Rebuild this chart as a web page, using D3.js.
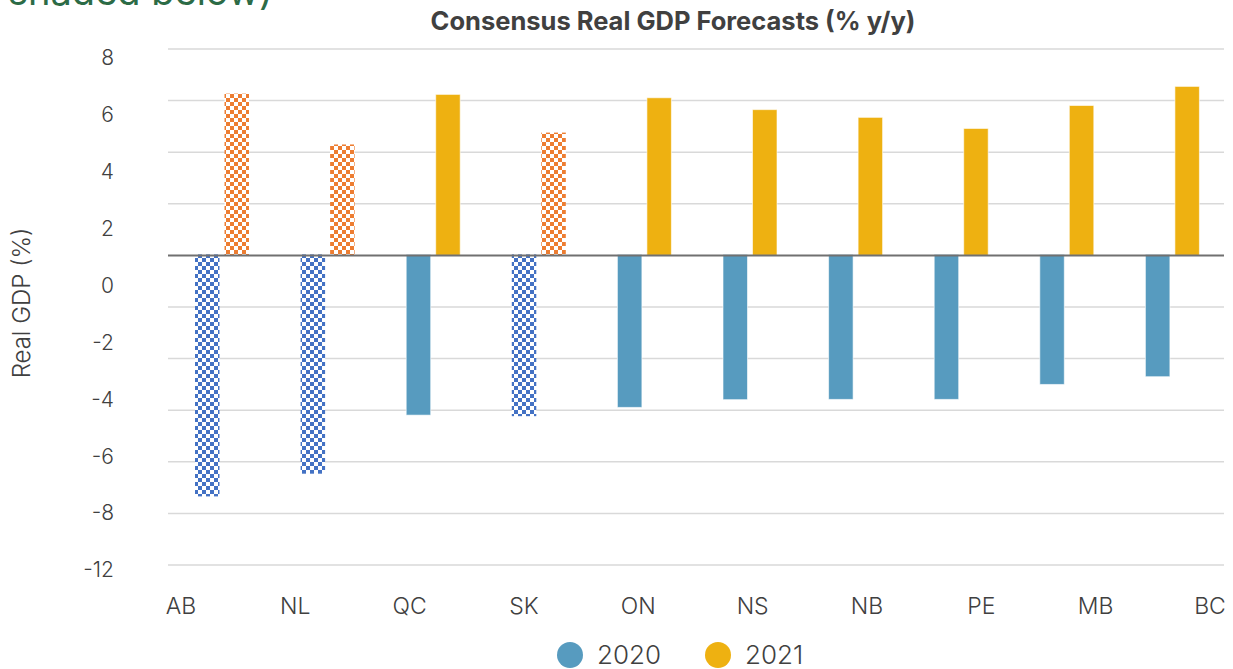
<!DOCTYPE html>
<html>
<head>
<meta charset="utf-8">
<script src="https://cdn.jsdelivr.net/npm/d3@7"></script>
<style>
  body { margin: 0; background: #fff; }
  text { font-family: Inter, "Open Sans", sans-serif; }
</style>
</head>
<body>
<div id="chart"></div>
<script>
// data
var provinces = ["AB", "NL", "QC", "SK", "ON", "NS", "NB", "PE", "MB", "BC"];
var series = ["2020", "2021"];
var gdp2020 = [-9.38, -8.5, -6.23, -6.27, -5.93, -5.63, -5.62, -5.62, -5.04, -4.74];
var gdp2021 = [6.27, 4.3, 6.24, 4.76, 6.11, 5.65, 5.35, 4.92, 5.81, 6.55];
var shaded = ["AB", "NL", "SK"];
var yTickLabels = ["8", "6", "4", "2", "0", "-2", "-4", "-6", "-8", "-12"];
var gridValues = [8, 6, 4, 2, -2, -4, -6, -8, -10, -12];

var width = 1233, height = 669;
var plot = {left: 168, right: 1224, top: 49, bottom: 565};

var svg = d3.select("#chart").append("svg")
    .attr("width", width)
    .attr("height", height);

// patterns for the shaded provinces
var defs = svg.append("defs");
function makePattern(id, color) {
  var p = defs.append("pattern")
      .attr("id", id)
      .attr("patternUnits", "userSpaceOnUse")
      .attr("width", 8).attr("height", 8);
  p.append("rect").attr("width", 8).attr("height", 8).attr("fill", "#fff");
  // crossing diagonals of small blocks
  [[0,0],[2,2],[4,4],[6,6],[6,0],[4,2],[2,4],[0,6]].forEach(function(c) {
    p.append("rect").attr("x", c[0]).attr("y", c[1])
      .attr("width", 2).attr("height", 2).attr("fill", color);
  });
}
makePattern("pat2020", "#4472C4");
makePattern("pat2021", "#ED7D31");

var y = d3.scaleLinear()
    .domain([-12, 8])
    .range([plot.bottom, plot.top]);

var x = d3.scaleBand()
    .domain(provinces)
    .range([plot.left, plot.right]);

var xInner = d3.scaleBand()
    .domain(series)
    .range([27, 81])
    .paddingInner(0.17);

// labels are spread on their own, as in the source chart
var xLabel = d3.scalePoint()
    .domain(provinces)
    .range([181, 1210]);

var yLabel = d3.scalePoint()
    .domain(yTickLabels)
    .range([58, 570]);

// cut-off heading from the page above
svg.append("text")
    .attr("x", 8).attr("y", 5)
    .attr("font-size", 38)
    .attr("fill", "#2c6b46")
    .text("shaded below)");

svg.append("text")
    .attr("x", 673).attr("y", 30)
    .attr("text-anchor", "middle")
    .attr("font-size", 25.5)
    .attr("font-weight", 700)
    .attr("fill", "#404040")
    .text("Consensus Real GDP Forecasts (% y/y)");

// gridlines
svg.append("g")
  .selectAll("line")
  .data(gridValues)
  .join("line")
    .attr("x1", plot.left).attr("x2", plot.right)
    .attr("y1", d => y(d)).attr("y2", d => y(d))
    .attr("stroke", "#d9d9d9")
    .attr("stroke-width", 1.5);

// y tick labels
svg.append("g")
  .selectAll("text")
  .data(yTickLabels)
  .join("text")
    .attr("x", 114)
    .attr("y", d => yLabel(d))
    .attr("dy", "0.35em")
    .attr("text-anchor", "end")
    .attr("font-size", 21)
    .attr("font-weight", 300)
    .attr("fill", "#404040")
    .text(d => d);

svg.append("text")
    .attr("transform", "translate(30,303) rotate(-90)")
    .attr("text-anchor", "middle")
    .attr("font-size", 24)
    .attr("font-weight", 300)
    .attr("fill", "#404040")
    .text("Real GDP (%)");

// bars
var rows = [];
provinces.forEach(function(p, i) {
  rows.push({prov: p, year: "2020", value: gdp2020[i]});
  rows.push({prov: p, year: "2021", value: gdp2021[i]});
});

function barFill(d) {
  var isShaded = shaded.indexOf(d.prov) >= 0;
  if (d.year === "2020") return isShaded ? "url(#pat2020)" : "#579BBF";
  return isShaded ? "url(#pat2021)" : "#EEB111";
}

svg.append("g")
  .selectAll("rect")
  .data(rows)
  .join("rect")
    .attr("x", d => x(d.prov) + xInner(d.year))
    .attr("width", xInner.bandwidth())
    .attr("y", d => d.value > 0 ? y(d.value) : y(0) - 1)
    .attr("height", d => Math.abs(y(d.value) - y(0)))
    .attr("fill", barFill)
    .attr("stroke", d => shaded.indexOf(d.prov) >= 0 ? "none" : "rgba(255,255,255,0.6)")
    .attr("stroke-width", 1);

// zero line
svg.append("line")
    .attr("x1", plot.left).attr("x2", plot.right)
    .attr("y1", y(0)).attr("y2", y(0))
    .attr("stroke", "#707070")
    .attr("stroke-width", 2);

// x labels
svg.append("g")
  .selectAll("text")
  .data(provinces)
  .join("text")
    .attr("x", d => xLabel(d))
    .attr("y", 614)
    .attr("text-anchor", "middle")
    .attr("font-size", 23)
    .attr("font-weight", 300)
    .attr("fill", "#404040")
    .text(d => d);

// legend
var legendColors = ["#579BBF", "#EEB111"];
var legendX = d3.scalePoint().domain(series).range([570, 718]);
var legend = svg.append("g")
  .selectAll("g")
  .data(series)
  .join("g")
    .attr("transform", d => `translate(${legendX(d)},655)`);
legend.append("circle")
    .attr("r", 13)
    .attr("fill", (d, i) => legendColors[i]);
legend.append("text")
    .attr("x", 27)
    .attr("dy", "0.35em")
    .attr("font-size", 26)
    .attr("font-weight", 300)
    .attr("fill", "#404040")
    .text(d => d);
</script>
</body>
</html>
